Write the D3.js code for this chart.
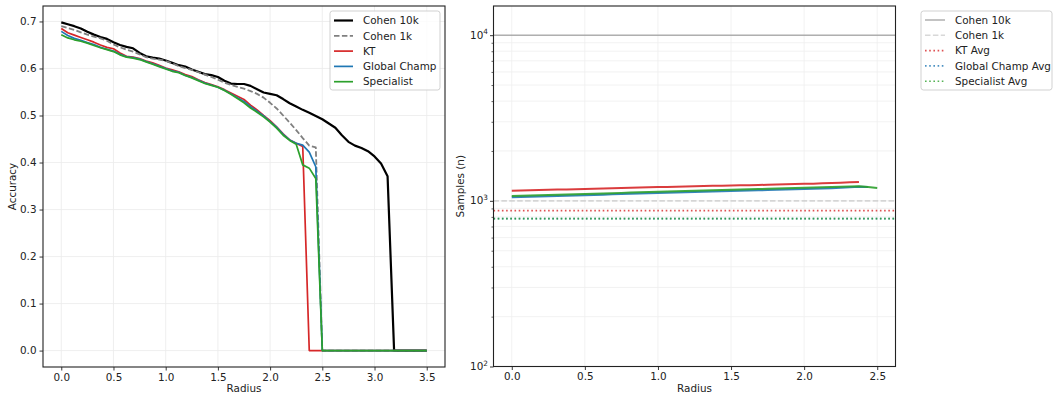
<!DOCTYPE html>
<html>
<head>
<meta charset="utf-8">
<script src="https://cdn.jsdelivr.net/npm/d3@7"></script>
<style>
  body { margin: 0; background: #fff; }
  svg { display: block; font-family: "DejaVu Sans", sans-serif; }
</style>
</head>
<body>
<svg id="chart" width="1053" height="398"></svg>
<script>
// Radius grid: 57 evenly spaced points from 0 to 3.5 (step 0.0625)
const radii = d3.range(57).map(i => i * 0.0625);

// Certified accuracy per radius
const cohen10k = [0.698,0.694,0.690,0.685,0.678,0.672,0.667,0.663,0.656,0.650,0.646,0.643,0.633,0.626,0.623,0.621,0.617,0.612,0.607,0.604,0.598,0.593,0.588,0.586,0.582,0.574,0.568,0.567,0.567,0.563,0.556,0.549,0.546,0.543,0.535,0.526,0.519,0.512,0.506,0.499,0.492,0.483,0.474,0.458,0.444,0.436,0.431,0.424,0.413,0.398,0.371,0,0,0,0,0,0];
const cohen1k = [0.690,0.686,0.682,0.677,0.672,0.668,0.664,0.659,0.651,0.645,0.640,0.636,0.630,0.624,0.621,0.619,0.616,0.611,0.605,0.601,0.597,0.592,0.587,0.582,0.576,0.570,0.565,0.561,0.557,0.552,0.546,0.538,0.527,0.515,0.500,0.485,0.469,0.452,0.436,0.432,0,0,0,0,0,0,0,0,0,0,0,0,0,0,0,0,0];
const kt = [0.685,0.676,0.671,0.666,0.661,0.656,0.650,0.645,0.642,0.633,0.626,0.624,0.621,0.616,0.612,0.607,0.601,0.597,0.593,0.587,0.583,0.576,0.570,0.566,0.561,0.555,0.548,0.541,0.534,0.522,0.512,0.500,0.489,0.476,0.461,0.448,0.441,0.434,0,0,0,0,0,0,0,0,0,0,0,0,0,0,0,0,0,0,0];
const globalChamp = [0.679,0.670,0.664,0.660,0.655,0.651,0.645,0.641,0.637,0.630,0.625,0.623,0.620,0.615,0.610,0.605,0.600,0.595,0.592,0.585,0.581,0.575,0.569,0.565,0.560,0.554,0.546,0.538,0.530,0.519,0.509,0.499,0.487,0.475,0.460,0.448,0.441,0.437,0.422,0.391,0,0,0,0,0,0,0,0,0,0,0,0,0,0,0,0,0];
const specialist = [0.672,0.665,0.661,0.658,0.654,0.649,0.644,0.640,0.636,0.629,0.624,0.622,0.619,0.614,0.609,0.604,0.599,0.594,0.591,0.585,0.580,0.574,0.568,0.564,0.560,0.553,0.545,0.536,0.527,0.516,0.507,0.497,0.486,0.473,0.458,0.447,0.439,0.395,0.388,0.366,0,0,0,0,0,0,0,0,0,0,0,0,0,0,0,0,0];

// Samples used per radius (adaptive methods)
const ktSamples = [1149,1153,1157,1161,1165,1169,1172,1176,1180,1183,1187,1190,1194,1198,1202,1206,1210,1214,1218,1222,1226,1229,1232,1235,1238,1241,1244,1247,1250,1254,1258,1262,1266,1270,1275,1280,1286,1293,1301];
const gcSamples = [1050,1054,1058,1062,1066,1070,1074,1078,1082,1086,1090,1094,1098,1102,1106,1110,1114,1118,1122,1126,1130,1134,1138,1142,1146,1150,1154,1158,1162,1166,1170,1174,1178,1182,1186,1192,1200,1208,1215,1210];
const spSamples = [1068,1072,1076,1080,1085,1089,1093,1097,1101,1105,1109,1113,1117,1121,1126,1130,1134,1138,1142,1146,1150,1154,1158,1162,1166,1170,1174,1178,1182,1186,1190,1194,1198,1202,1206,1210,1215,1220,1224,1211,1197];

// Reference sample budgets and averages
const cohen10kN = 10000;
const cohen1kN = 1000;
const ktAvg = 874;
const gcAvg = 782;
const spAvg = 782;

const xTicksLeft = [0, 0.5, 1, 1.5, 2, 2.5, 3, 3.5];
const yTicksLeft = [0, 0.1, 0.2, 0.3, 0.4, 0.5, 0.6, 0.7];
const xTicksRight = [0, 0.5, 1, 1.5, 2, 2.5];
const yTicksRight = [100, 1000, 10000];
const yMinorRight = [200,300,400,500,600,700,800,900,2000,3000,4000,5000,6000,7000,8000,9000];

const C = { red: "#d62728", blue: "#1f77b4", green: "#2ca02c" };
const FS = 10.4;

const svg = d3.select("#chart");

function styleAxis(g) {
  g.selectAll(".domain").remove();
  g.selectAll(".tick line").attr("stroke", "#222").attr("stroke-width", 0.9);
  g.selectAll(".tick text").attr("fill", "#222").attr("font-size", FS)
    .attr("font-family", "DejaVu Sans, sans-serif");
}

function frame(L, R, T, B) {
  svg.append("rect").attr("x", L).attr("y", T).attr("width", R - L).attr("height", B - T)
    .attr("fill", "none").attr("stroke", "#222").attr("stroke-width", 1.1);
}

// ---------------- Left panel: accuracy vs radius ----------------
{
  const L = 43, R = 445, T = 6, B = 367;
  const xExt = [0, 3.5], yMax = d3.max(cohen10k);
  const xPad = (xExt[1] - xExt[0]) * 0.05, yPad = yMax * 0.05;
  const x = d3.scaleLinear().domain([xExt[0] - xPad, xExt[1] + xPad]).range([L, R]);
  const y = d3.scaleLinear().domain([-yPad, yMax + yPad]).range([B, T]);

  const grid = svg.append("g").attr("stroke", "#ebebeb").attr("stroke-width", 0.8);
  xTicksLeft.forEach(v => grid.append("line").attr("x1", x(v)).attr("x2", x(v)).attr("y1", T).attr("y2", B));
  yTicksLeft.forEach(v => grid.append("line").attr("x1", L).attr("x2", R).attr("y1", y(v)).attr("y2", y(v)));

  const line = d3.line().x((d, i) => x(radii[i])).y(d => y(d));
  const series = [
    { name: "Cohen 10k", data: cohen10k, color: "#000", width: 2.2, dash: null },
    { name: "Cohen 1k", data: cohen1k, color: "#808080", width: 1.8, dash: "5.5,2.4" },
    { name: "KT", data: kt, color: C.red, width: 1.7, dash: null },
    { name: "Global Champ", data: globalChamp, color: C.blue, width: 1.7, dash: null },
    { name: "Specialist", data: specialist, color: C.green, width: 1.7, dash: null }
  ];
  series.forEach(s => {
    svg.append("path").datum(s.data).attr("d", line).attr("fill", "none")
      .attr("stroke", s.color).attr("stroke-width", s.width)
      .attr("stroke-dasharray", s.dash).attr("stroke-linejoin", "round");
  });

  frame(L, R, T, B);

  const xa = svg.append("g").attr("transform", `translate(0,${B})`)
    .call(d3.axisBottom(x).tickValues(xTicksLeft).tickFormat(d3.format(".1f")).tickSize(3.5).tickPadding(3));
  styleAxis(xa);
  const ya = svg.append("g").attr("transform", `translate(${L},0)`)
    .call(d3.axisLeft(y).tickValues(yTicksLeft).tickFormat(d3.format(".1f")).tickSize(3.5).tickPadding(3));
  styleAxis(ya);

  svg.append("text").attr("x", (L + R) / 2).attr("y", 392).attr("text-anchor", "middle")
    .attr("font-size", FS).attr("fill", "#222").text("Radius");
  svg.append("text").attr("transform", `translate(16,${(T + B) / 2}) rotate(-90)`)
    .attr("text-anchor", "middle").attr("font-size", FS).attr("fill", "#222").text("Accuracy");

  // legend
  const lg = svg.append("g").attr("transform", "translate(330,11)");
  lg.append("rect").attr("width", 110).attr("height", 79).attr("rx", 2.5)
    .attr("fill", "#fff").attr("fill-opacity", 0.8).attr("stroke", "#ccc").attr("stroke-width", 0.9);
  series.forEach((s, i) => {
    const yy = 9.5 + i * 15.3;
    lg.append("line").attr("x1", 4).attr("x2", 23).attr("y1", yy).attr("y2", yy)
      .attr("stroke", s.color).attr("stroke-width", s.width).attr("stroke-dasharray", s.dash);
    lg.append("text").attr("x", 33).attr("y", yy + 3.7).attr("font-size", FS).attr("fill", "#222").text(s.name);
  });
}

// ---------------- Right panel: samples vs radius (log) ----------------
{
  const L = 493.5, R = 895.5, T = 6, B = 366.5;
  const x = d3.scaleLinear().domain([-0.125, 2.625]).range([L, R]);
  const y = d3.scaleLog().domain([100, 15000]).range([B, T]);

  const grid = svg.append("g").attr("stroke", "#efefef").attr("stroke-width", 0.8);
  xTicksRight.forEach(v => grid.append("line").attr("x1", x(v)).attr("x2", x(v)).attr("y1", T).attr("y2", B));
  yTicksRight.concat(yMinorRight).forEach(v => grid.append("line").attr("x1", L).attr("x2", R).attr("y1", y(v)).attr("y2", y(v)));

  const hline = (v, color, w, dash, op) => svg.append("line")
    .attr("x1", L).attr("x2", R).attr("y1", y(v)).attr("y2", y(v))
    .attr("stroke", color).attr("stroke-width", w).attr("stroke-dasharray", dash).attr("stroke-opacity", op);

  hline(cohen10kN, "#808080", 1.5, null, 0.6);
  hline(cohen1kN, "#c8c8c8", 1.6, "5.5,2.4", 0.7);
  hline(ktAvg, C.red, 1.7, "1.6,2.6", 0.8);
  hline(gcAvg, C.blue, 1.7, "1.6,2.6", 0.8);
  hline(spAvg, C.green, 1.7, "1.6,2.6", 0.8);

  const line = d3.line().x((d, i) => x(radii[i])).y(d => y(d));
  [[ktSamples, C.red], [gcSamples, C.blue], [spSamples, C.green]].forEach(([d, c]) => {
    svg.append("path").datum(d).attr("d", line).attr("fill", "none")
      .attr("stroke", c).attr("stroke-width", 2).attr("stroke-opacity", 0.9).attr("stroke-linejoin", "round");
  });

  frame(L, R, T, B);

  const xa = svg.append("g").attr("transform", `translate(0,${B})`)
    .call(d3.axisBottom(x).tickValues(xTicksRight).tickFormat(d3.format(".1f")).tickSize(3.5).tickPadding(3));
  styleAxis(xa);

  const ya = svg.append("g").attr("transform", `translate(${L},0)`)
    .call(d3.axisLeft(y).tickValues(yTicksRight).tickFormat("").tickSize(3.5));
  styleAxis(ya);
  const ym = svg.append("g").attr("transform", `translate(${L},0)`)
    .call(d3.axisLeft(y).tickValues(yMinorRight).tickFormat("").tickSize(2));
  styleAxis(ym);
  ym.selectAll(".tick line").attr("stroke-width", 0.7);

  yTicksRight.forEach(v => {
    const t = svg.append("text").attr("x", L - 5.5).attr("y", y(v) + 3.5).attr("text-anchor", "end")
      .attr("font-size", FS).attr("fill", "#222");
    t.append("tspan").text("10");
    t.append("tspan").attr("font-size", 7.3).attr("dy", -4.5).text(String(Math.round(Math.log10(v))));
  });

  svg.append("text").attr("x", (L + R) / 2).attr("y", 392).attr("text-anchor", "middle")
    .attr("font-size", FS).attr("fill", "#222").text("Radius");
  svg.append("text").attr("transform", `translate(464,${(T + B) / 2}) rotate(-90)`)
    .attr("text-anchor", "middle").attr("font-size", FS).attr("fill", "#222").text("Samples (n)");

  // legend outside the axes
  const items = [
    { name: "Cohen 10k", color: "#808080", dash: null, op: 0.6 },
    { name: "Cohen 1k", color: "#c8c8c8", dash: "5.5,2.4", op: 0.7 },
    { name: "KT Avg", color: C.red, dash: "1.6,2.6", op: 0.8 },
    { name: "Global Champ Avg", color: C.blue, dash: "1.6,2.6", op: 0.8 },
    { name: "Specialist Avg", color: C.green, dash: "1.6,2.6", op: 0.8 }
  ];
  const lg = svg.append("g").attr("transform", "translate(921,11)");
  lg.append("rect").attr("width", 131).attr("height", 79).attr("rx", 2.5)
    .attr("fill", "#fff").attr("fill-opacity", 0.8).attr("stroke", "#ccc").attr("stroke-width", 0.9);
  items.forEach((s, i) => {
    const yy = 9 + i * 15.3;
    lg.append("line").attr("x1", 4).attr("x2", 24).attr("y1", yy).attr("y2", yy)
      .attr("stroke", s.color).attr("stroke-width", 1.6).attr("stroke-dasharray", s.dash).attr("stroke-opacity", s.op);
    lg.append("text").attr("x", 34).attr("y", yy + 3.7).attr("font-size", FS).attr("fill", "#222").text(s.name);
  });
}
</script>
</body>
</html>
